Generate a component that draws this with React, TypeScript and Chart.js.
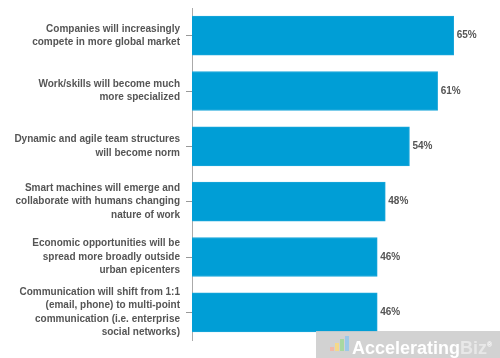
import React, { useEffect, useRef } from "react";
import { Chart, registerables } from "chart.js";

Chart.register(...registerables);

const categories: string[][] = [
  ["Companies will increasingly", "compete in more global market"],
  ["Work/skills will become much", "more specialized"],
  ["Dynamic and agile team structures", "will become norm"],
  ["Smart machines will emerge and", "collaborate with humans changing", "nature of work"],
  ["Economic opportunities will be", "spread more broadly outside", "urban epicenters"],
  ["Communication will shift from 1:1", "(email, phone) to multi-point", "communication (i.e. enterprise", "social networks)"],
];
const values: number[] = [65, 61, 54, 48, 46, 46];
const valueLabels: string[] = ["65%", "61%", "54%", "48%", "46%", "46%"];

const FONT = "'Liberation Sans', Arial, Helvetica, sans-serif";

const valueLabelPlugin = {
  id: "valueLabels",
  afterDatasetsDraw(chart: any) {
    const ctx = chart.ctx;
    const meta = chart.getDatasetMeta(0);
    ctx.save();
    ctx.font = `bold 10px ${FONT}`;
    ctx.fillStyle = "#555555";
    ctx.textAlign = "left";
    ctx.textBaseline = "middle";
    meta.data.forEach((bar: any, i: number) => {
      ctx.fillText(valueLabels[i], bar.x + 3, bar.y);
    });
    ctx.restore();
  },
};

export default function App() {
  const ref = useRef<HTMLCanvasElement>(null);
  useEffect(() => {
    if (!ref.current) return;
    const chart = new Chart(ref.current, {
      type: "bar",
      data: {
        labels: categories,
        datasets: [
          {
            data: values,
            backgroundColor: "#009ed6",
            borderColor: "#1aa6da",
            borderWidth: 1,
            barThickness: 39,
          },
        ],
      },
      options: {
        indexAxis: "y",
        animation: false,
        responsive: false,
        maintainAspectRatio: false,
        layout: { padding: { top: 8, bottom: 18, left: 0, right: 6 } },
        plugins: { legend: { display: false }, tooltip: { enabled: false } },
        scales: {
          x: { display: false, min: 0, max: 75 },
          y: {
            afterFit(scale: any) {
              scale.width = 192;
              scale.paddingTop = 0;
              scale.paddingBottom = 0;
            },
            border: { display: true, color: "#aaaaaa", width: 1 },
            grid: {
              drawOnChartArea: false,
              drawTicks: true,
              tickLength: 6,
              color: "#999999",
              offset: false,
            },
            ticks: {
              padding: 6,
              color: "#555555",
              font: { family: FONT, size: 10, weight: "bold", lineHeight: 1.33 },
              autoSkip: false,
            },
          },
        },
      },
      plugins: [valueLabelPlugin],
    });
    return () => chart.destroy();
  }, []);
  return (
    <div style={{ position: "fixed", left: 0, top: 0, width: 500, height: 358, background: "#fff" }}>
      <canvas ref={ref} width={500} height={358} style={{ width: 500, height: 358, display: "block" }} />
      <div
        style={{
          position: "absolute",
          left: 316,
          top: 331,
          width: 184,
          height: 27,
          background: "rgba(205,205,205,0.9)",
          color: "#ffffff",
          fontFamily: FONT,
          fontWeight: "bold",
          fontSize: 18,
          lineHeight: "27px",
          paddingLeft: 36,
          boxSizing: "border-box",
          whiteSpace: "nowrap",
        }}
      >
        <span style={{ position: "absolute", left: 14, top: 16, width: 4, height: 4, background: "#f2b8a8" }} />
        <span style={{ position: "absolute", left: 19, top: 12, width: 4, height: 8, background: "#f5d98a" }} />
        <span style={{ position: "absolute", left: 24, top: 8, width: 4, height: 12, background: "#a8d8a0" }} />
        <span style={{ position: "absolute", left: 29, top: 5, width: 4, height: 15, background: "#9cc8e8" }} />
        Accelerating<span style={{ color: "#e8e8e8" }}>Biz</span>
        <sup style={{ fontSize: 7 }}>®</sup>
      </div>
    </div>
  );
}
